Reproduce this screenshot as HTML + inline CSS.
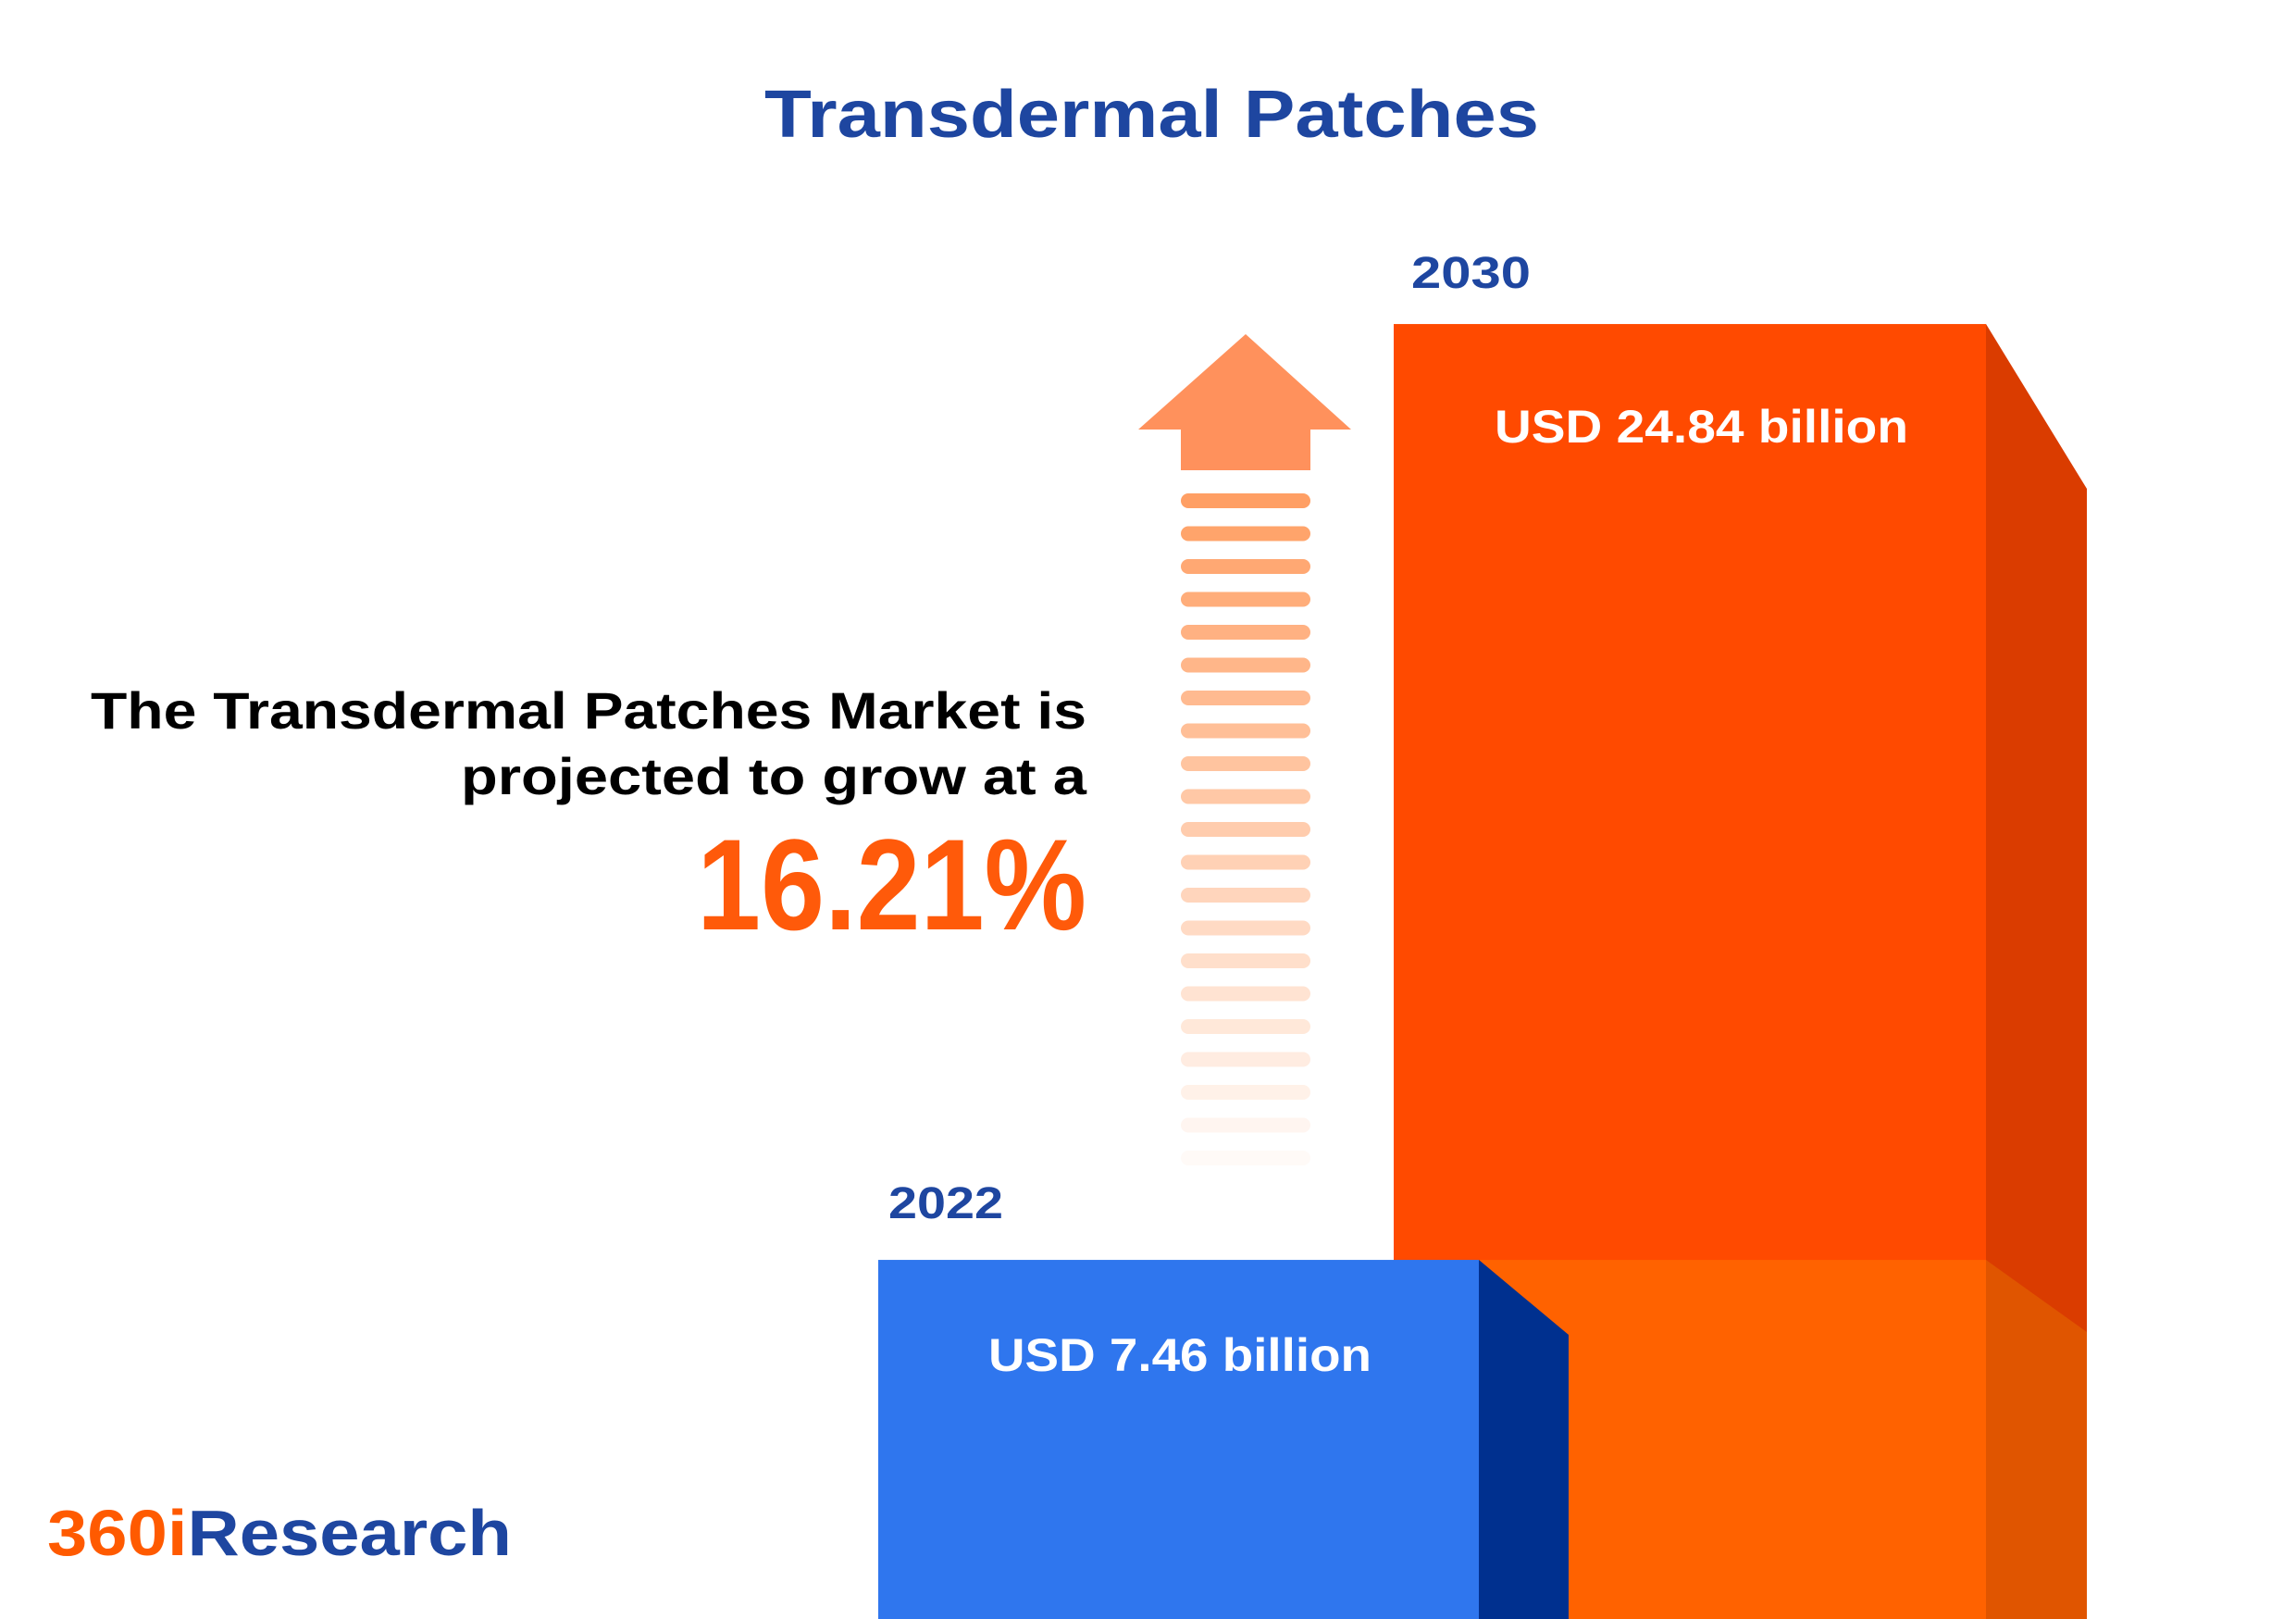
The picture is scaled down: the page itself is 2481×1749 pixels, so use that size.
<!DOCTYPE html>
<html><head><meta charset="utf-8"><style>
html,body{margin:0;padding:0;background:#fff;}
svg{display:block;}
text{font-family:"Liberation Sans",sans-serif;font-weight:bold;}
</style></head><body>
<svg id="chart" width="2481" height="1749" viewBox="0 0 2481 1749" xmlns="http://www.w3.org/2000/svg">
<text x="826" y="148" textLength="837" lengthAdjust="spacingAndGlyphs" font-size="72" fill="#1E46A0">Transdermal Patches</text>
<text x="98" y="787" textLength="1076" lengthAdjust="spacingAndGlyphs" font-size="56" fill="#000">The Transdermal Patches Market is</text>
<text x="498" y="858" textLength="676" lengthAdjust="spacingAndGlyphs" font-size="56" fill="#000">projected to grow at a</text>
<text id="cagr" x="753" y="1004" textLength="421" lengthAdjust="spacingAndGlyphs" font-size="140" fill="#FF5A0A">16.21%</text>
<g id="arrow">
<polygon points="1346,361 1460,464 1416,464 1416,508 1276,508 1276,464 1230,464" fill="#FF915C"/>
</g>
<g id="bars"></g>
<text x="51" y="1680" textLength="502" lengthAdjust="spacingAndGlyphs" font-size="70" fill="#FF5A00">360i<tspan fill="#1E46A0">Research</tspan></text>
</svg>
<script>
const years = ["2022", "2030"];
const values = [7.46, 24.84];
const labels = ["USD 7.46 billion", "USD 24.84 billion"];
const cagrText = "16.21%";

const NS = "http://www.w3.org/2000/svg";
const baseY = 1749;
function yScale(v){ return baseY - (58.17 * v - 46); }
function mk(tag, attrs, parent){ const e=document.createElementNS(NS,tag); for(const k in attrs) e.setAttribute(k,attrs[k]); parent.appendChild(e); return e; }

const g = document.getElementById('bars');
const arrow = document.getElementById('arrow');
for(let i=0;i<21;i++){
  const s = mk('rect',{x:1276,y:533+i*35.5,width:140,height:16,rx:8,fill:'#FF9A5C','fill-opacity':(0.95-i*0.045).toFixed(3)},arrow);
  
  
}

const t1 = yScale(values[1]);
const ob = mk('rect',{x:1506,y:t1,width:640,height:baseY-t1,fill:'#FF4A00'},g);


const os = mk('polygon',{points:`2146,${t1} 2255,${t1+178} 2255,${baseY} 2146,${baseY}`,fill:'#DA3C00'},g);



const t0 = yScale(values[0]);
const ol = mk('rect',{x:1598,y:t0,width:548,height:baseY-t0,fill:'#FF6200'},g);


const ols = mk('polygon',{points:`2146,${t0} 2255,${t0+78} 2255,${baseY} 2146,${baseY}`,fill:'#E05500'},g);



const bb = mk('rect',{x:949,y:t0,width:649,height:baseY-t0,fill:'#2F76EE'},g);


const bs = mk('polygon',{points:`1598,${t0} 1695,${t0+81} 1695,${baseY} 1598,${baseY}`,fill:'#00308F'},g);



const y0 = mk('text',{x:960,y:t0-45,'font-size':48,fill:'#1E46A0',textLength:124,lengthAdjust:'spacingAndGlyphs'},g); y0.textContent=years[0];


const y1 = mk('text',{x:1525,y:t1-39,'font-size':48,fill:'#1E46A0',textLength:129,lengthAdjust:'spacingAndGlyphs'},g); y1.textContent=years[1];


const v0 = mk('text',{x:1068,y:t0+120,'font-size':50,fill:'#fff',textLength:414,lengthAdjust:'spacingAndGlyphs'},g); v0.textContent=labels[0];


const v1 = mk('text',{x:1615,y:t1+128,'font-size':50,fill:'#fff',textLength:447,lengthAdjust:'spacingAndGlyphs'},g); v1.textContent=labels[1];


document.getElementById('cagr').textContent = cagrText;
</script>
</body></html>
